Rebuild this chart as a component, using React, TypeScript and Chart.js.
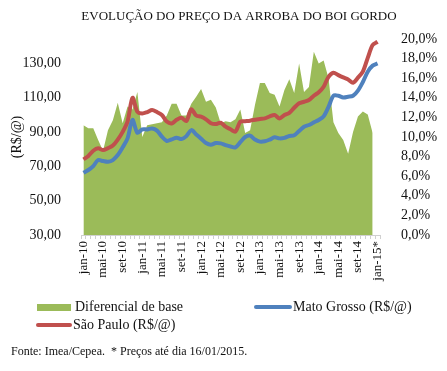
import React, { useEffect, useRef } from "react";
import { Chart, registerables } from "chart.js";
Chart.register(...registerables);

const categories = [
  "jan-10","fev-10","mar-10","abr-10","mai-10","jun-10","jul-10","ago-10","set-10","out-10","nov-10","dez-10",
  "jan-11","fev-11","mar-11","abr-11","mai-11","jun-11","jul-11","ago-11","set-11","out-11","nov-11","dez-11",
  "jan-12","fev-12","mar-12","abr-12","mai-12","jun-12","jul-12","ago-12","set-12","out-12","nov-12","dez-12",
  "jan-13","fev-13","mar-13","abr-13","mai-13","jun-13","jul-13","ago-13","set-13","out-13","nov-13","dez-13",
  "jan-14","fev-14","mar-14","abr-14","mai-14","jun-14","jul-14","ago-14","set-14","out-14","nov-14","dez-14",
  "jan-15*",
];

const tickLabels = [
  "jan-10","mai-10","set-10","jan-11","mai-11","set-11","jan-12","mai-12","set-12",
  "jan-13","mai-13","set-13","jan-14","mai-14","set-14","jan-15*",
];

const leftTicks = [30, 50, 70, 90, 110, 130];
const rightTicks = [0, 2, 4, 6, 8, 10, 12, 14, 16, 18, 20];

// Diferencial de base (%), right axis
const diferencial = [
  11.2, 10.9, 10.9, 9.7, 8.6, 10.7, 11.7, 13.5, 11.4, 13.1, 12.8, 14.6,
  10.0, 11.2, 11.3, 11.4, 11.5, 12.2, 13.4, 13.4, 12.2, 12.2, 13.4, 14.1,
  14.9, 13.6, 13.8, 13.0, 11.4, 11.6, 11.5, 11.8, 12.8, 10.4, 10.7, 13.3,
  15.5, 15.5, 14.5, 14.3, 13.1, 14.8, 15.9, 14.5, 17.5, 14.6, 15.1, 18.7,
  17.5, 17.8, 16.0, 11.5, 10.4, 9.7, 8.3, 10.5, 12.1, 12.6, 12.3, 10.4,
  null,
];

// Mato Grosso (R$/@), left axis
const matoGrosso = [
  66.2, 67.8, 70.1, 73.6, 73.0, 72.6, 73.6, 76.5, 81.0, 86.2, 96.9, 89.5,
  91.4, 91.4, 92.0, 90.7, 87.2, 84.7, 85.6, 86.6, 85.8, 87.5, 91.0, 88.5,
  86.0, 83.5, 82.5, 83.5, 83.3, 82.3, 81.5, 81.0, 84.0, 87.0, 87.8, 85.5,
  84.3, 84.5, 85.5, 86.8, 86.2, 86.5, 87.6, 88.0, 90.5, 93.0, 94.0, 95.5,
  96.9, 99.0, 104.5, 111.0, 111.0, 110.0, 110.4, 111.0, 114.0, 119.0, 125.0, 128.5,
  129.8,
];

// São Paulo (R$/@), left axis
const saoPaulo = [
  74.0, 76.0, 79.0, 80.4, 79.4, 80.5, 82.0, 85.5, 90.0, 96.0, 109.8, 101.7,
  100.7, 101.5, 102.7, 101.5, 99.8, 96.0, 94.9, 97.0, 98.2, 96.3, 103.1, 99.5,
  98.8, 97.3, 95.0, 94.5, 95.3, 93.0, 91.5, 90.1, 95.9, 96.2, 96.5, 97.0,
  97.5, 97.8, 99.0, 99.8, 97.8, 99.8, 101.0, 104.0, 106.6, 107.5, 108.5, 111.0,
  113.0, 116.2, 122.0, 124.4, 123.0, 121.7, 120.5, 118.6, 121.5, 125.0, 133.0, 140.5,
  142.4,
];

const GREEN = "#9BBB59";
const BLUE = "#4F81BD";
const RED = "#C0504D";
const TEXT = "#111111";
const FONT = "'Liberation Serif', serif";

const textPlugin = {
  id: "customText",
  afterDraw(chart: any) {
    const ctx = chart.ctx;
    ctx.save();
    ctx.fillStyle = TEXT;
    ctx.textBaseline = "middle";
    // title
    ctx.font = `13px ${FONT}`;
    ctx.textAlign = "center";
    ctx.fillText("EVOLUÇÃO DO PREÇO DA ARROBA DO BOI GORDO", 239, 17);
    // legend
    ctx.textAlign = "left";
    ctx.font = `14px ${FONT}`;
    ctx.fillStyle = GREEN;
    ctx.fillRect(37, 304, 34, 7);
    ctx.lineCap = "round";
    ctx.lineWidth = 4;
    ctx.strokeStyle = BLUE;
    ctx.beginPath();
    ctx.moveTo(256, 307);
    ctx.lineTo(290, 307);
    ctx.stroke();
    ctx.strokeStyle = RED;
    ctx.beginPath();
    ctx.moveTo(38, 325);
    ctx.lineTo(70, 325);
    ctx.stroke();
    ctx.fillStyle = TEXT;
    ctx.fillText("Diferencial de base", 75, 307);
    ctx.fillText("Mato Grosso (R$/@)", 293, 307);
    ctx.fillText("São Paulo (R$/@)", 73, 325);
    // footer
    ctx.font = `12px ${FONT}`;
    ctx.fillText("Fonte: Imea/Cepea.  * Preços até dia 16/01/2015.", 11, 352);
    ctx.restore();
  },
};

export default function App() {
  const ref = useRef<HTMLCanvasElement>(null);
  useEffect(() => {
    document.body.style.margin = "0";
    const canvas = ref.current!;
    const chart = new Chart(canvas, {
      type: "line",
      data: {
        labels: categories,
        datasets: [
          {
            label: "São Paulo (R$/@)",
            data: saoPaulo,
            borderColor: RED,
            backgroundColor: RED,
            borderWidth: 4,
            pointRadius: 0,
            tension: 0.3,
            yAxisID: "y",
            order: 1,
          },
          {
            label: "Mato Grosso (R$/@)",
            data: matoGrosso,
            borderColor: BLUE,
            backgroundColor: BLUE,
            borderWidth: 4,
            pointRadius: 0,
            tension: 0.3,
            yAxisID: "y",
            order: 2,
          },
          {
            label: "Diferencial de base",
            data: diferencial,
            borderColor: GREEN,
            backgroundColor: GREEN,
            borderWidth: 0,
            pointRadius: 0,
            fill: "origin",
            tension: 0,
            spanGaps: false,
            yAxisID: "y1",
            order: 3,
          },
        ],
      },
      options: {
        responsive: false,
        animation: false,
        devicePixelRatio: 1,
        layout: { padding: { top: 39, left: 0, right: 0, bottom: 0 } },
        plugins: {
          legend: { display: false },
          title: { display: false },
          tooltip: { enabled: false },
        },
        scales: {
          x: {
            offset: true,
            afterFit: (s: any) => { s.height = 136; },
            grid: {
              display: true,
              drawOnChartArea: false,
              drawTicks: true,
              tickLength: 4,
              color: "#d0d0d0",
              offset: true,
            },
            border: { display: true, color: "#d0d0d0" },
            ticks: {
              autoSkip: false,
              minRotation: 90,
              maxRotation: 90,
              padding: 2,
              color: TEXT,
              font: { family: FONT, size: 13 },
              callback: (_v: any, i: number) => (i % 4 === 0 ? tickLabels[i / 4] : ""),
            },
          },
          y: {
            position: "left",
            min: 30,
            max: 144,
            afterFit: (s: any) => { s.width = 81; },
            afterBuildTicks: (s: any) => {
              s.ticks = leftTicks.map((v) => ({ value: v }));
            },
            grid: { display: false },
            border: { display: false },
            title: {
              display: true,
              text: "(R$/@)",
              color: TEXT,
              font: { family: FONT, size: 14 },
              padding: { top: 9, bottom: 0 },
            },
            ticks: {
              autoSkip: false,
              padding: 12,
              color: TEXT,
              font: { family: FONT, size: 14 },
              callback: (v: any) => Number(v).toFixed(2).replace(".", ","),
            },
          },
          y1: {
            position: "right",
            min: 0,
            max: 20,
            afterFit: (s: any) => { s.width = 67; },
            afterBuildTicks: (s: any) => {
              s.ticks = rightTicks.map((v) => ({ value: v }));
            },
            grid: { display: false },
            border: { display: false },
            ticks: {
              autoSkip: false,
              padding: 13,
              color: TEXT,
              font: { family: FONT, size: 14 },
              callback: (v: any) => Number(v).toFixed(1).replace(".", ",") + "%",
            },
          },
        },
      },
      plugins: [textPlugin],
    });
    return () => chart.destroy();
  }, []);
  return (
    <div style={{ position: "absolute", left: 0, top: 0, width: 447, height: 371, background: "#fff" }}>
      <canvas ref={ref} width={447} height={371} style={{ width: 447, height: 371, display: "block" }} />
    </div>
  );
}
